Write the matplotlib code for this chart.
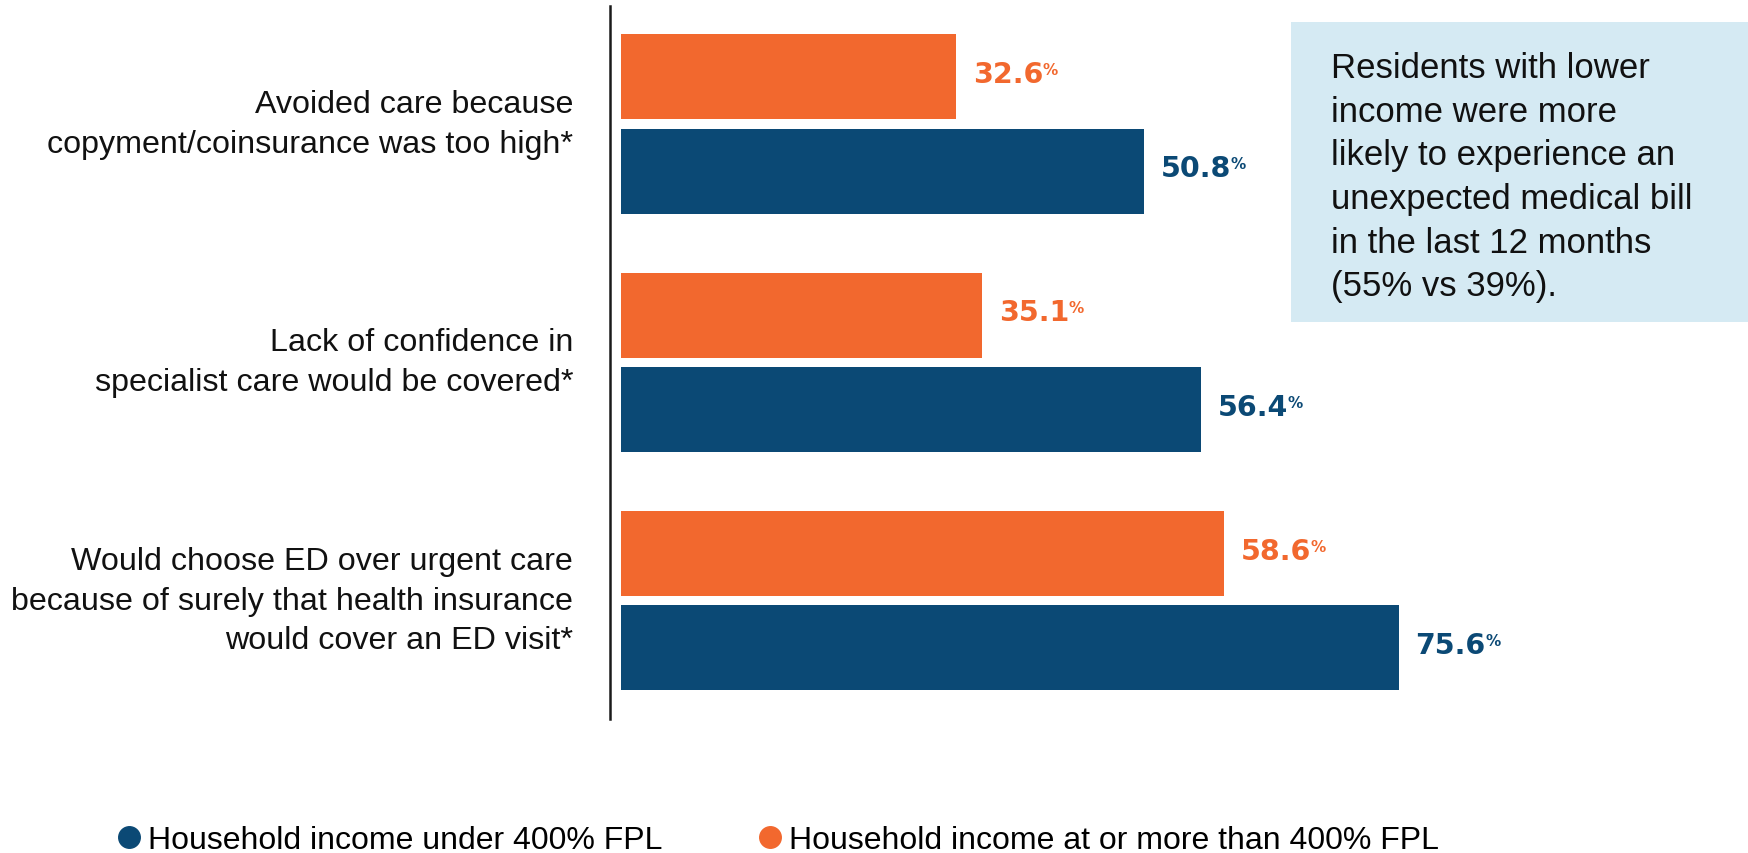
import matplotlib.pyplot as plt
from matplotlib.lines import Line2D
from matplotlib.patches import Rectangle

plt.rcParams['font.family'] = ['Liberation Sans', 'DejaVu Sans']

categories = [
    "Avoided care because\ncopyment/coinsurance was too high*",
    "Lack of confidence in\nspecialist care would be covered*",
    "Would choose ED over urgent care\nbecause of surely that health insurance\nwould cover an ED visit*",
]
under_400 = [50.8, 56.4, 75.6]
at_or_above_400 = [32.6, 35.1, 58.6]
series_names = ["Household income under 400% FPL",
                "Household income at or more than 400% FPL"]
note = ("Residents with lower\nincome were more\nlikely to experience an\n"
        "unexpected medical bill\nin the last 12 months\n(55% vs 39%).")

BLUE = "#0B4975"
ORANGE = "#F2682E"
W, H = 1748, 854

fig = plt.figure(figsize=(W / 100, H / 100), dpi=100)
# axes box in pixels: spine at x=610, y from 7 to 720
ax = fig.add_axes([610 / W, 1 - 720 / H, 1040 / W, 713 / H])
ax.set_xlim(-1.07, 100)
ax.set_ylim(2.497, -0.495)

pos = list(range(len(categories)))
bh = 0.357
ax.barh([p - 0.198 for p in pos], at_or_above_400, height=bh, color=ORANGE)
ax.barh([p + 0.198 for p in pos], under_400, height=bh, color=BLUE)


def value_label(x, y, color):
    t = ax.annotate(f"{x:.1f}", xy=(x, y), xytext=(12, 2), textcoords="offset points",
                    ha="left", va="center", fontsize=20.5, fontweight="bold",
                    family="DejaVu Sans", color=color)
    ax.annotate("%", xy=(1, 1), xycoords=t, xytext=(-0.5, -1.5), textcoords="offset points",
                ha="left", va="top", fontsize=11, fontweight="bold",
                family="DejaVu Sans", color=color)


for p, v in zip(pos, at_or_above_400):
    value_label(v, p - 0.198, ORANGE)
for p, v in zip(pos, under_400):
    value_label(v, p + 0.198, BLUE)

ax.set_yticks(pos)
ax.set_yticklabels(categories, fontsize=23.2, linespacing=1.42, color="#111111", va="center")
ax.tick_params(axis="y", length=0, pad=26.5)
ax.set_xticks([])
for s in ["top", "right", "bottom"]:
    ax.spines[s].set_visible(False)
ax.spines["left"].set_linewidth(1.8)
ax.spines["left"].set_color("#1a1a1a")

# note box on the right
fig.patches.append(Rectangle((1291 / W, 1 - 323 / H), 457 / W, 300 / H,
                             transform=fig.transFigure, facecolor="#D5EAF3",
                             edgecolor="none", zorder=0))
fig.text(1331 / W, 1 - 52 / H, note, ha="left", va="top", fontsize=25,
         linespacing=1.41, color="#111111")

handles = [Line2D([], [], ls="none", marker="o", markersize=15.5, color=BLUE),
           Line2D([], [], ls="none", marker="o", markersize=15.5, color=ORANGE)]
fig.legend(handles, series_names, loc="center left", ncol=2,
           bbox_to_anchor=(117 / W, 1 - 841 / H), frameon=False, fontsize=23,
           handlelength=0.72, handletextpad=0.25, columnspacing=3.0,
           borderpad=0, borderaxespad=0)

fig.savefig("out.png", dpi=100)
